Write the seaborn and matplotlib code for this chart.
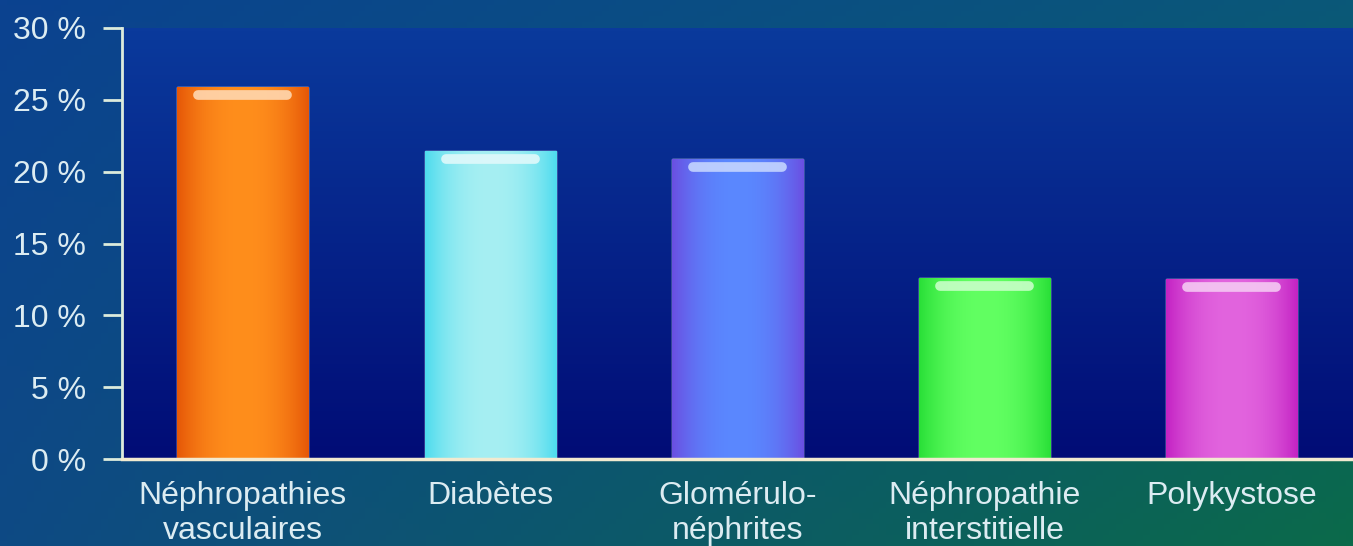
import numpy as np
import matplotlib
matplotlib.use('Agg')
import matplotlib.pyplot as plt
import matplotlib.colors as mcolors
import seaborn as sns

categories = ["Néphropathies\nvasculaires", "Diabètes", "Glomérulo-\nnéphrites",
              "Néphropathie\ninterstitielle", "Polykystose"]
values = [25.9, 21.4, 20.9, 12.6, 12.5]
yticks = [0, 5, 10, 15, 20, 25, 30]
ytick_labels = [f"{t} %" for t in yticks]

bar_colors = ["#f57f10", "#6fe6f2", "#5c72f4", "#45f04a", "#d847d4"]
edge_colors = ["#e65808", "#4fdcee", "#6a50e2", "#2ae038", "#c424c4"]
center_colors = ["#ff8e1c", "#a6eff3", "#5a88ff", "#62ff62", "#e264de"]

sns.set_theme(style="white")
plt.rcParams['font.family'] = ['Liberation Sans', 'DejaVu Sans']

fig = plt.figure(figsize=(13.53, 5.46), dpi=100)

# figure background: blue on the left, green/teal on the right
bg = fig.add_axes([0, 0, 1, 1], zorder=-10)
tl, tr = np.array(mcolors.to_rgb("#0b4290")), np.array(mcolors.to_rgb("#0a5878"))
bl, br = np.array(mcolors.to_rgb("#0e4a84")), np.array(mcolors.to_rgb("#0b6a4a"))
u = np.linspace(0, 1, 200)[None, :, None]
v = np.linspace(0, 1, 100)[:, None, None]
img = (1 - v) * ((1 - u) * tl + u * tr) + v * ((1 - u) * bl + u * br)
bg.imshow(img, aspect='auto', extent=[0, 1, 0, 1], origin='upper')
bg.axis('off')

ax = fig.add_axes([0.090, 0.159, 0.91, 0.790])
ax.patch.set_visible(False)

sns.barplot(x=categories, y=values, hue=categories, palette=bar_colors,
            legend=False, width=0.53, saturation=1, ax=ax, zorder=2)

ax.set_xlim(-0.49, 4.49)
ax.set_ylim(0, 30)

# plot area gradient (dark navy at the bottom)
top, bot = np.array(mcolors.to_rgb("#0a3a9c")), np.array(mcolors.to_rgb("#010c76"))
vv = np.linspace(0, 1, 100)[:, None, None]
area = (1 - vv) * top + vv * bot
area = np.repeat(area, 2, axis=1)
ax.imshow(area, aspect='auto', extent=[-0.49, 4.49, 0, 30], origin='upper', zorder=0)

# gradient fill + glossy highlight on each bar
t = np.linspace(0, 1, 64)
w = (1 - np.abs(2 * t - 1) ** 2.2)[None, :, None]
for patch, ec, cc in zip(ax.patches, edge_colors, center_colors):
    x0, wd, h = patch.get_x(), patch.get_width(), patch.get_height()
    e, c = np.array(mcolors.to_rgb(ec)), np.array(mcolors.to_rgb(cc))
    grad = np.repeat(e * (1 - w) + c * w, 2, axis=0)
    im = ax.imshow(grad, aspect='auto', extent=[x0, x0 + wd, 0, h], zorder=3)
    im.set_clip_path(patch)
    hl = 0.35 * c + 0.65 * np.ones(3)
    ax.plot([x0 + 0.16 * wd, x0 + 0.84 * wd], [h - 0.55, h - 0.55], color=hl,
            lw=7, alpha=0.9, solid_capstyle='round', zorder=4)

ax.set_yticks(yticks)
ax.set_yticklabels(ytick_labels)
ax.set_xlabel("")
ax.set_ylabel("")

for side in ['top', 'right']:
    ax.spines[side].set_visible(False)
ax.spines['left'].set_color('#dcebdc')
ax.spines['left'].set_linewidth(2)
ax.spines['bottom'].set_color('#f2ead0')
ax.spines['bottom'].set_linewidth(2.5)
ax.spines['left'].set_zorder(5)
ax.spines['bottom'].set_zorder(5)

ax.tick_params(axis='y', left=True, length=14, width=2, color='#dcebdc', pad=12,
               labelsize=23, labelcolor='#dcecf2')
ax.tick_params(axis='x', bottom=False, length=0, pad=16, labelsize=23, labelcolor='#dcecf2')
for lbl in ax.get_xticklabels():
    lbl.set_linespacing(1.18)

fig.savefig("out.png", dpi=100)
